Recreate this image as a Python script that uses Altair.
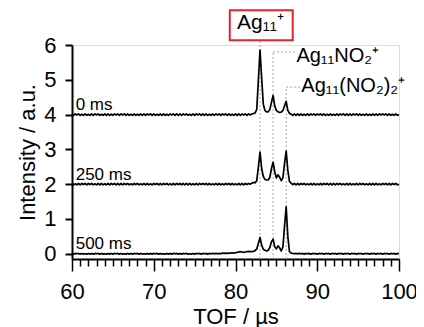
import altair as alt
import numpy as np
import pandas as pd

# time-of-flight sampling grid (µs)
tof = np.round(np.linspace(60, 100, 201), 1)

trace_names = ["0 ms", "250 ms", "500 ms"]
trace_offsets = [4, 2, 0]

sig_0ms = [
    0.02, -0.02, 0.02, -0.01, 0.02, -0.02, 0.01, -0.02, 0.02, -0.02,
    0.01, -0.02, 0.02, -0.02, 0.02, -0.01, 0.02, -0.02, 0.01, -0.02,
    0.02, -0.02, 0.02, -0.02, 0.01, -0.02, 0.02, -0.01, 0.02, -0.02,
    0.02, -0.01, 0.02, -0.02, 0.02, -0.02, 0.01, -0.02, 0.02, -0.02,
    0.01, -0.02, 0.02, -0.02, 0.02, -0.02, 0.02, -0.01, 0.02, -0.02,
    0.02, -0.02, 0.01, -0.02, 0.02, -0.02, 0.02, -0.02, 0.01, -0.02,
    0.02, -0.01, 0.02, -0.02, 0.02, -0.02, 0.02, -0.02, 0.02, -0.01,
    0.02, -0.02, 0.01, -0.02, 0.02, -0.02, 0.02, -0.01, 0.02, -0.02,
    0.02, -0.02, 0.02, -0.02, 0.01, -0.02, 0.02, -0.02, 0.02, -0.01,
    0.02, -0.02, 0.02, -0.01, 0.02, -0.02, 0.02, -0.02, 0.01, -0.02,
    0.02, -0.02, 0.02, -0.02, 0.02, -0.01, 0.02, -0.02, 0.02, -0.01,
    0.02, 0.03, 0.05, 0.15, 1.00, 1.85, 1.05, 0.30, 0.12, 0.08,
    0.08, 0.15, 0.35, 0.55, 0.25, 0.12, 0.08, 0.06, 0.07, 0.12,
    0.25, 0.38, 0.12, 0.04, 0.01, -0.02, 0.02, -0.02, 0.02, -0.02,
    0.02, -0.02, 0.01, -0.02, 0.02, -0.02, 0.02, -0.01, 0.02, -0.02,
    0.02, -0.01, 0.02, -0.02, 0.02, -0.02, 0.01, -0.02, 0.02, -0.02,
    0.01, -0.02, 0.02, -0.02, 0.02, -0.01, 0.02, -0.02, 0.02, -0.02,
    0.02, -0.02, 0.02, -0.01, 0.02, -0.02, 0.02, -0.02, 0.01, -0.02,
    0.02, -0.02, 0.01, -0.02, 0.02, -0.02, 0.02, -0.02, 0.02, -0.01,
    0.02, -0.01, 0.02, -0.02, 0.02, -0.02, 0.01, -0.02, 0.02, -0.02,
    0.00,
]

sig_250ms = [
    0.02, -0.02, 0.01, -0.02, 0.02, -0.02, 0.02, -0.01, 0.02, -0.02,
    0.02, -0.01, 0.02, -0.02, 0.01, -0.02, 0.02, -0.02, 0.02, -0.02,
    0.01, -0.02, 0.02, -0.02, 0.02, -0.01, 0.02, -0.02, 0.02, -0.02,
    0.02, -0.02, 0.02, -0.01, 0.02, -0.02, 0.01, -0.02, 0.02, -0.01,
    0.02, -0.02, 0.01, -0.02, 0.02, -0.02, 0.02, -0.02, 0.01, -0.02,
    0.02, -0.01, 0.02, -0.02, 0.02, -0.02, 0.02, -0.01, 0.02, -0.02,
    0.01, -0.02, 0.02, -0.02, 0.02, -0.01, 0.02, -0.02, 0.02, -0.02,
    0.02, -0.02, 0.02, -0.02, 0.01, -0.02, 0.02, -0.02, 0.02, -0.01,
    0.02, -0.01, 0.02, -0.02, 0.02, -0.02, 0.01, -0.02, 0.02, -0.02,
    0.02, -0.02, 0.01, -0.02, 0.02, -0.01, 0.02, -0.02, 0.02, -0.02,
    0.01, -0.02, 0.02, -0.02, 0.02, -0.02, 0.02, -0.01, 0.02, 0.00,
    0.03, 0.05, 0.04, 0.10, 0.50, 0.92, 0.45, 0.22, 0.14, 0.12,
    0.12, 0.20, 0.45, 0.63, 0.35, 0.18, 0.27, 0.20, 0.10, 0.18,
    0.60, 0.95, 0.40, 0.08, 0.03, -0.01, 0.02, -0.02, 0.02, -0.02,
    0.02, -0.01, 0.02, -0.02, 0.01, -0.02, 0.02, -0.02, 0.02, -0.02,
    0.01, -0.02, 0.02, -0.02, 0.02, -0.01, 0.02, -0.02, 0.02, -0.02,
    0.02, -0.02, 0.02, -0.01, 0.02, -0.02, 0.01, -0.02, 0.02, -0.02,
    0.02, -0.02, 0.01, -0.02, 0.02, -0.02, 0.02, -0.01, 0.02, -0.02,
    0.01, -0.02, 0.02, -0.02, 0.02, -0.02, 0.02, -0.02, 0.01, -0.02,
    0.02, -0.01, 0.02, -0.02, 0.02, -0.02, 0.02, -0.01, 0.02, -0.02,
    0.00,
]

sig_500ms = [
    0.01, -0.01, 0.01, 0.00, 0.01, -0.01, 0.01, -0.01, 0.00, -0.01,
    0.01, -0.01, 0.01, -0.01, 0.01, 0.00, 0.01, -0.01, 0.01, -0.01,
    0.00, -0.01, 0.01, -0.01, 0.01, -0.01, 0.01, 0.00, 0.01, -0.01,
    0.01, -0.01, 0.00, -0.01, 0.01, -0.01, 0.01, -0.01, 0.01, 0.00,
    0.01, -0.01, 0.01, -0.01, 0.00, -0.01, 0.01, -0.01, 0.01, -0.01,
    0.01, 0.00, 0.01, -0.01, 0.01, -0.01, 0.00, -0.01, 0.01, -0.01,
    0.01, -0.01, 0.01, 0.00, 0.01, -0.01, 0.01, -0.01, 0.01, 0.00,
    0.01, -0.01, 0.00, -0.01, 0.01, -0.01, 0.01, 0.00, 0.01, -0.01,
    0.01, 0.00, 0.01, -0.01, 0.01, 0.00, 0.01, 0.00, 0.01, 0.00,
    0.01, 0.00, 0.02, 0.01, 0.02, 0.01, 0.02, 0.02, 0.03, 0.02,
    0.03, 0.04, 0.05, 0.06, 0.05, 0.04, 0.05, 0.06, 0.07, 0.06,
    0.06, 0.07, 0.09, 0.14, 0.30, 0.47, 0.25, 0.13, 0.10, 0.08,
    0.10, 0.18, 0.35, 0.42, 0.20, 0.14, 0.23, 0.17, 0.08, 0.20,
    0.80, 1.35, 0.50, 0.06, 0.02, 0.01, 0.00, 0.01, 0.00, 0.01,
    0.00, 0.01, -0.01, 0.01, 0.00, 0.01, -0.01, 0.01, 0.00, 0.01,
    -0.01, 0.01, 0.00, 0.01, -0.01, 0.01, 0.00, 0.01, -0.01, 0.01,
    0.00, 0.01, -0.01, 0.01, 0.00, 0.01, -0.01, 0.01, 0.00, 0.01,
    -0.01, 0.01, 0.00, 0.01, -0.01, 0.01, 0.00, 0.01, -0.01, 0.01,
    0.00, 0.01, -0.01, 0.01, 0.00, 0.01, -0.01, 0.01, 0.00, 0.01,
    -0.01, 0.01, 0.00, 0.01, -0.01, 0.01, 0.00, 0.01, -0.01, 0.01,
    0.00,
]

signals = [sig_0ms, sig_250ms, sig_500ms]

# axis tick values
x_ticks = list(range(60, 101))
y_ticks = [0, 1, 2, 3, 4, 5, 6]

# peak annotations
peak_labels = ["Ag₁₁⁺", "Ag₁₁NO₂⁺", "Ag₁₁(NO₂)₂⁺"]
peak_tof = [83.0, 84.6, 86.2]
label_x = [83.05, 87.45, 88.05]
label_y = [6.46, 5.51, 4.65]
leader_top = [6.14, 5.80, 4.79]
leader_end = [83.0, 87.3, 87.9]

FONT = "Liberation Sans"

rows = []
for name, off, sig in zip(trace_names, trace_offsets, signals):
    for t, v in zip(tof, sig):
        rows.append({"tof": float(t), "y": v + off, "trace": name})
df = pd.DataFrame(rows)

xscale = alt.Scale(domain=[60, 100], nice=False, zero=False)
yscale = alt.Scale(domain=[-0.15, 6], nice=False, zero=False)

x_axis = alt.Axis(
    values=x_ticks,
    labelExpr="datum.value % 10 === 0 ? datum.label : ''",
    tickSize={"condition": {"test": "datum.value % 10 === 0", "value": 12}, "value": 7},
    labelOverlap=False, labelFlush=False,
    labelFontSize=22, labelFont=FONT, labelColor="black", labelPadding=10,
    title="TOF / µs", titleFontSize=22, titleFont=FONT, titleFontWeight="normal",
    titleColor="black", titlePadding=4,
    domainColor="black", domainWidth=2, tickColor="black", tickWidth=1.5,
    grid=False,
)
y_axis = alt.Axis(
    values=y_ticks,
    labelOverlap=False, labelFlush=False,
    tickSize=7, labelFontSize=22, labelFont=FONT, labelColor="black", labelPadding=9,
    title="Intensity / a.u.", titleFontSize=22, titleFont=FONT, titleFontWeight="normal",
    titleColor="black", titlePadding=4,
    domainColor="black", domainWidth=2, tickColor="black", tickWidth=2,
    grid=False,
)


def X(field):
    return alt.X(field, scale=xscale, axis=x_axis)


def Y(field):
    return alt.Y(field, scale=yscale, axis=y_axis)


leaders_v = pd.DataFrame({"x": peak_tof, "y": [-0.15] * 3, "y2": leader_top})
leaders_h = pd.DataFrame({"x": peak_tof[1:], "x2": leader_end[1:], "y": leader_top[1:]})

dotted = dict(color="#8ea6d6", strokeWidth=1, strokeDash=[2, 2])

vlines = alt.Chart(leaders_v).mark_rule(**dotted).encode(x=X("x:Q"), y=Y("y:Q"), y2="y2:Q")
hlines = alt.Chart(leaders_h).mark_rule(**dotted).encode(x=X("x:Q"), x2="x2:Q", y=Y("y:Q"))

lines = alt.Chart(df).mark_line(color="black", strokeWidth=1.7, strokeJoin="round").encode(
    x=X("tof:Q"), y=Y("y:Q"), detail="trace:N",
)

tl = pd.DataFrame({"x": [60.45] * 3, "y": [o + 0.13 for o in trace_offsets], "t": trace_names})
trace_text = alt.Chart(tl).mark_text(
    align="left", baseline="alphabetic", font=FONT, fontSize=17, color="black"
).encode(x=X("x:Q"), y=Y("y:Q"), text="t:N")

pl = pd.DataFrame({"x": label_x, "y": label_y, "t": peak_labels})
peak_text1 = alt.Chart(pl.iloc[[0]]).mark_text(
    align="center", baseline="alphabetic", font=FONT, fontSize=21, color="black"
).encode(x=X("x:Q"), y=Y("y:Q"), text="t:N")
peak_text2 = alt.Chart(pl.iloc[[1, 2]]).mark_text(
    align="left", baseline="alphabetic", font=FONT, fontSize=20, color="black"
).encode(x=X("x:Q"), y=Y("y:Q"), text="t:N")

box = pd.DataFrame({"x": [79.3], "x2": [87.0], "y": [6.14], "y2": [7.0]})
red_box = alt.Chart(box).mark_rect(fill=None, stroke="#e3242b", strokeWidth=2).encode(
    x=X("x:Q"), x2="x2:Q", y=Y("y:Q"), y2="y2:Q"
)

chart = alt.layer(vlines, hlines, lines, trace_text, peak_text1, peak_text2, red_box).properties(
    width=327, height=214,
    autosize=alt.AutoSizeParams(type="none"),
    padding={"left": 64, "top": 37, "right": 17, "bottom": 76},
).configure_view(stroke=None).configure(background="white")

chart.save("out.html", embed_options={"renderer": "svg", "actions": False})
